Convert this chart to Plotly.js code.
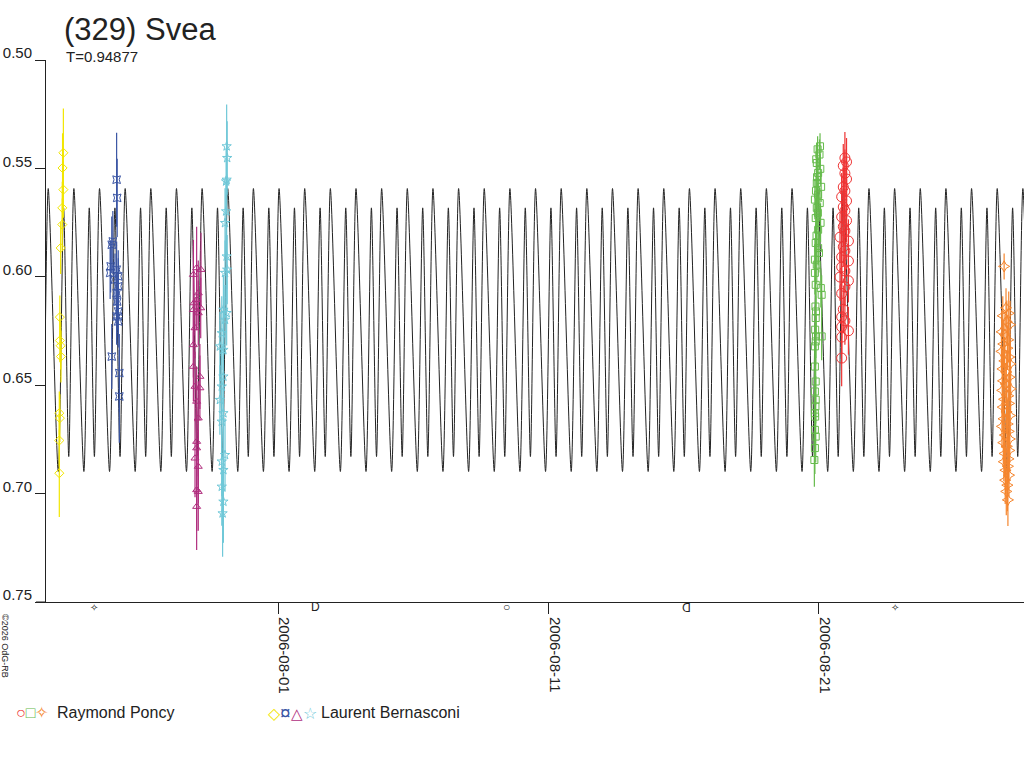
<!DOCTYPE html>
<html>
<head>
<meta charset="utf-8">
<script src="https://cdn.plot.ly/plotly-3.0.1.min.js"></script>
<style>html,body{margin:0;padding:0;background:#fff;}#chart{width:1024px;height:768px;}</style>
</head>
<body>
<div id="chart"></div>
<script>
// ---- Data (days are counted from 2006-08-01 00:00 UT, magnitudes are relative) ----
const periodT = 0.94877;              // period shown on chart (T)
const modelEpochDay = -8.51;          // time of the brighter maximum
const modelPhase = [0, 0.39, 0.60, 0.80];
const modelMag   = [0.5593, 0.6898, 0.5682, 0.6829];

const yellowDays = [-7.95,-7.98,-7.95,-7.99,-7.99,-8.05,-8.08,-8.08,-8.05,-8.04,-8.10,-8.08,-8.10,-8.10];
const yellowMag  = [0.5428,0.5498,0.5598,0.5682,0.5759,0.5867,0.6186,0.6294,0.6318,0.6368,0.6629,0.6652,0.6755,0.6906];
const yellowErr  = [0.0204,0.016,0.013,0.012,0.012,0.012,0.010,0.010,0.011,0.012,0.010,0.011,0.012,0.0202];

const blueDays = [-5.98,-5.96,-6.12,-6.16,-6.20,-6.22,-5.98,-5.92,-6.04,-5.92,-5.98,-5.96,-5.92,-5.98,-5.92,-6.16,-5.88,-5.88];
const blueMag  = [0.5552,0.5636,0.5837,0.5852,0.5952,0.5982,0.5967,0.5998,0.6013,0.6044,0.6075,0.6114,0.6160,0.6183,0.6206,0.6368,0.6444,0.6552];
const blueErr  = [0.0217,0.018,0.014,0.013,0.012,0.012,0.013,0.012,0.012,0.013,0.012,0.013,0.012,0.013,0.012,0.015,0.018,0.0214];

const magentaDays = [-3.02,-2.86,-3.14,-2.96,-3.02,-3.12,-2.87,-3.14,-2.96,-3.08,-3.14,-3.14,-2.90,-3.08,-2.90,-3.02,-2.96,-3.02,-3.02,-3.08,-2.96,-3.02,-2.96,-3.02];
const magentaMag  = [0.5959,0.5967,0.5990,0.6075,0.6106,0.6121,0.6144,0.6152,0.6167,0.6236,0.6314,0.6414,0.6460,0.6506,0.6513,0.6575,0.6652,0.6760,0.6790,0.6837,0.6875,0.6983,0.6991,0.7060];
const magentaErr  = [0.019,0.017,0.016,0.015,0.014,0.015,0.014,0.016,0.015,0.014,0.015,0.016,0.015,0.016,0.015,0.016,0.017,0.016,0.017,0.018,0.017,0.019,0.018,0.020];

const cyanDays = [-1.91,-1.89,-1.91,-1.93,-1.93,-1.97,-1.91,-1.89,-1.97,-2.03,-1.91,-1.97,-2.09,-2.16,-2.03,-2.03,-2.09,-2.16,-2.03,-2.09,-1.97,-2.09,-2.03,-2.09,-2.03,-2.06];
const cyanMag  = [0.5398,0.5452,0.5552,0.5560,0.5698,0.5752,0.5906,0.5967,0.5982,0.6152,0.6167,0.6198,0.6260,0.6321,0.6337,0.6460,0.6506,0.6568,0.6629,0.6668,0.6822,0.6852,0.6891,0.6968,0.7037,0.7091];
const cyanErr  = [0.0193,0.017,0.016,0.015,0.015,0.016,0.015,0.016,0.015,0.016,0.015,0.016,0.017,0.016,0.017,0.016,0.017,0.016,0.017,0.016,0.017,0.016,0.017,0.018,0.019,0.020];

const greenDays = [20.04,19.92,19.97,19.92,19.97,19.85,19.92,19.88,19.97,19.88,19.97,19.85,19.92,19.85,20.07,19.88,20.10,19.87,19.89,19.88,19.86,19.89,19.88,19.85,20.10,19.85,19.88,19.85,19.88,19.87,19.85,19.86,19.85,19.88,19.85,19.83,19.95,20.02,19.90,20.05,19.93,20.08,19.89,20.03,19.96,20.06,19.91,20.00];
const greenMag  = [0.5398,0.5475,0.5521,0.5567,0.5621,0.5644,0.5682,0.5729,0.5783,0.5844,0.5867,0.5921,0.5944,0.5982,0.6052,0.6037,0.6083,0.6137,0.6160,0.6190,0.6244,0.6275,0.6298,0.6321,0.6275,0.6414,0.6483,0.6529,0.6567,0.6598,0.6629,0.6645,0.6706,0.6737,0.6790,0.6845,0.5412,0.5436,0.5458,0.5502,0.5540,0.5585,0.5603,0.5660,0.5705,0.5751,0.5810,0.5890];
const greenErr  = [0.006,0.007,0.007,0.008,0.008,0.009,0.008,0.009,0.008,0.009,0.008,0.010,0.009,0.010,0.009,0.010,0.009,0.010,0.011,0.010,0.011,0.010,0.011,0.010,0.011,0.010,0.011,0.012,0.011,0.012,0.011,0.012,0.011,0.012,0.012,0.0123,0.006,0.007,0.006,0.007,0.008,0.007,0.008,0.007,0.008,0.009,0.008,0.009];

const redDays = [20.96,21.02,20.90,20.96,21.02,20.90,20.96,20.84,21.02,20.90,20.96,20.84,21.02,20.90,20.96,20.78,21.09,20.90,20.96,20.84,21.09,20.84,20.96,20.78,21.09,20.96,20.84,20.90,20.84,20.96,20.84,21.09,20.84,20.84];
const redMag  = [0.5452,0.5470,0.5488,0.5523,0.5549,0.5586,0.5604,0.5631,0.5650,0.5678,0.5695,0.5724,0.5741,0.5769,0.5788,0.5817,0.5835,0.5862,0.5880,0.5909,0.5927,0.5955,0.5973,0.6001,0.6018,0.6046,0.6077,0.6150,0.6185,0.6203,0.6231,0.6249,0.6278,0.6375];
const redErr  = [0.012,0.011,0.010,0.011,0.010,0.009,0.010,0.011,0.010,0.009,0.010,0.011,0.010,0.009,0.010,0.011,0.010,0.009,0.010,0.011,0.010,0.009,0.010,0.011,0.010,0.009,0.010,0.011,0.010,0.011,0.012,0.011,0.012,0.013];

const orangeDays = [26.85,26.92,27.02,26.80,26.95,27.07,26.76,26.88,27.00,26.82,26.97,26.75,27.04,26.86,27.08,26.79,26.93,27.05,26.81,26.91,27.09,26.78,27.00,26.85,27.03,26.80,26.94,27.07,26.83,26.98,26.77,27.02,26.88,27.06,26.82,26.95,27.04,26.87,27.01,26.84,26.99,26.90,27.03,26.89,26.97,26.93,26.99];
const orangeMag  = [0.5952,0.6143,0.6168,0.6180,0.6209,0.6221,0.6254,0.6266,0.6291,0.6310,0.6329,0.6344,0.6370,0.6388,0.6402,0.6425,0.6439,0.6463,0.6480,0.6494,0.6517,0.6524,0.6549,0.6565,0.6584,0.6601,0.6623,0.6640,0.6655,0.6679,0.6690,0.6713,0.6730,0.6748,0.6765,0.6782,0.6801,0.6815,0.6840,0.6853,0.6874,0.6892,0.6915,0.6938,0.6961,0.6990,0.7029];
const orangeErr  = [0.006,0.009,0.010,0.009,0.010,0.011,0.010,0.009,0.010,0.011,0.010,0.009,0.010,0.011,0.010,0.009,0.010,0.011,0.010,0.009,0.010,0.011,0.010,0.009,0.010,0.011,0.010,0.009,0.010,0.011,0.010,0.009,0.010,0.011,0.010,0.009,0.010,0.011,0.010,0.009,0.010,0.011,0.010,0.011,0.012,0.011,0.012];

const moonDays   = [-6.81, 1.365, 8.454, 15.077, 22.799];
const moonGlyphs = ['✧', 'D', '○', 'D', '✧'];
const moonAngles = [0, 0, 0, 180, 0];

const axisStartDay = -8.5925, axisEndDay = 27.585;
const yTop = 0.50, yBottom = 0.75;
const xTickStart = '2006-08-01', xTickDays = 10;

const titleText = '(329) Svea';
const periodText = 'T=0.94877';
const copyrightText = '©2026 OdG-RB';
const observers = ['Raymond Poncy', 'Laurent Bernasconi'];

// ---- helpers ----
const DAY0 = Date.UTC(2006, 7, 1);
function toDate(d) { return new Date(DAY0 + d * 864e5).toISOString().replace('T', ' ').replace('Z', ''); }
const FONT = 'Liberation Sans, Arial, Helvetica, sans-serif';
const INK = '#222222';

const colors = {red:'#ee3333', green:'#66bb4c', orange:'#f5862e', yellow:'#f2e600', blue:'#3a55a4', magenta:'#b02e7e', cyan:'#70c8d8'};

// model curve: the one-period shape repeated with the period T
const modelX = [], modelY = [];
for (let n = -1; n * periodT + modelEpochDay < axisEndDay + periodT; n++) {
  for (let k = 0; k < modelPhase.length; k++) {
    modelX.push(toDate(modelEpochDay + (n + modelPhase[k]) * periodT));
    modelY.push(modelMag[k]);
  }
}

function obsTrace(days, mags, errs, color, symbol, size) {
  return {
    type: 'scatter', mode: 'markers',
    x: days.map(toDate), y: mags,
    error_y: {type: 'data', array: errs, visible: true, color: color, thickness: 1.2, width: 0},
    marker: {symbol: symbol, size: size, color: color, line: {color: color, width: 1}},
    showlegend: false, hoverinfo: 'x+y'
  };
}

const traces = [
  {type:'scatter', mode:'lines', x: modelX, y: modelY, line:{color: INK, width: 1, shape: 'spline', smoothing: 0.7}, showlegend:false, hoverinfo:'skip'},
  obsTrace(yellowDays, yellowMag, yellowErr, colors.yellow, 'diamond-open', 7),
  obsTrace(blueDays, blueMag, blueErr, colors.blue, 'star-square-open', 7),
  obsTrace(magentaDays, magentaMag, magentaErr, colors.magenta, 'triangle-up-open', 7),
  obsTrace(cyanDays, cyanMag, cyanErr, colors.cyan, 'star-open', 7),
  obsTrace(greenDays, greenMag, greenErr, colors.green, 'square-open', 7),
  obsTrace(redDays, redMag, redErr, colors.red, 'circle-open', 10),
  obsTrace(orangeDays, orangeMag, orangeErr, colors.orange, 'star-diamond-open', 8)
];

const L = 46, T = 60, W = 978, H = 542;
const px2x = p => (p - L) / W;
const py2y = p => (T + H - p) / H;

const g = (c, s, sz) => '<span style="color:' + c + ';font-size:' + sz + 'px">' + s + '</span>';
const note = (text, px, py, size, extra) => Object.assign({text: text, xref:'paper', yref:'paper', x: px2x(px), y: py2y(py), xanchor:'left', yanchor:'middle', showarrow:false, font:{family:FONT, size:size, color:INK}}, extra || {});
const annotations = [
  note(periodText, 64, 57, 15),
  note(g(colors.red,'○',16) + g(colors.green,'□',16) + g(colors.orange,'✧',16), 14, 712, 16),
  note(observers[0], 55, 712, 16),
  note(g(colors.yellow,'◇',16) + g(colors.blue,'¤',19) + g(colors.magenta,'△',15) + g(colors.cyan,'☆',16), 266, 712, 16),
  note(observers[1], 319, 712, 16),
  note(copyrightText, 5, 646, 9, {xanchor:'center', textangle: 90})
];
moonDays.forEach((d, i) => annotations.push({
  text: moonGlyphs[i], xref:'x', yref:'paper', x: toDate(d), y: py2y(607), xanchor:'center', yanchor:'middle',
  textangle: moonAngles[i], showarrow:false, font:{family:FONT, size: moonGlyphs[i] === '✧' ? 10 : 12, color:INK}
}));

const layout = {
  width: 1024, height: 768,
  margin: {l: L, r: 0, t: T, b: 768 - T - H, pad: 0},
  paper_bgcolor: '#ffffff', plot_bgcolor: '#ffffff',
  font: {family: FONT, color: INK},
  title: {text: titleText, font: {family: FONT, size: 31, color: INK}, xref: 'container', x: 64/1024, xanchor: 'left', yref: 'container', y: 1 - 29/768, yanchor: 'middle'},
  xaxis: {
    type: 'date', range: [toDate(axisStartDay), toDate(axisEndDay)],
    showgrid: false, zeroline: false, showline: true, linecolor: INK, linewidth: 1,
    ticks: 'outside', ticklen: 11, tickcolor: INK, tickwidth: 1,
    tick0: xTickStart, dtick: xTickDays * 864e5, tickformat: '%Y-%m-%d', tickangle: 90,
    ticklabelshift: 6, tickfont: {family: FONT, size: 15, color: INK}
  },
  yaxis: {
    range: [yBottom, yTop],
    showgrid: false, zeroline: false, showline: true, linecolor: INK, linewidth: 1,
    ticks: 'outside', ticklen: 10, tickcolor: INK, tickwidth: 1,
    tick0: 0.5, dtick: 0.05, tickformat: '.2f',
    ticklabelshift: 7, tickfont: {family: FONT, size: 15, color: INK}
  },
  shapes: [
    {type:'line', xref:'paper', yref:'paper', x0: px2x(36), x1: 0, y0: 0, y1: 0, line:{color: INK, width: 1}}
  ],
  annotations: annotations,
  showlegend: false
};

Plotly.newPlot('chart', traces, layout, {staticPlot: true, displayModeBar: false});
</script>
</body>
</html>
